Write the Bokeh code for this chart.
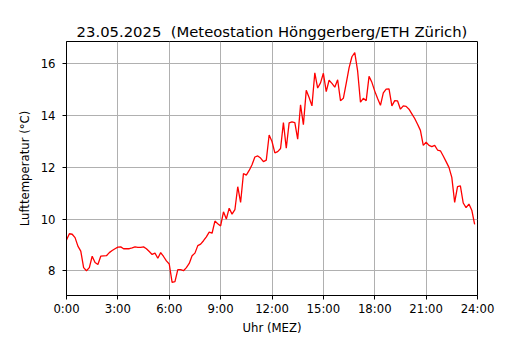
from bokeh.plotting import figure
from bokeh.models import FixedTicker, Range1d, Title
from bokeh.embed import file_html
from bokeh.resources import INLINE

# 10-minute samples, 0:00 .. 23:50
minutes = list(range(0, 24 * 60, 10))
temps = [
    9.19, 9.43, 9.41, 9.28, 8.95, 8.76, 8.12, 8.00, 8.12, 8.56, 8.32, 8.24,
    8.56, 8.57, 8.58, 8.70, 8.78, 8.85, 8.91, 8.92, 8.85, 8.85, 8.85, 8.88,
    8.92, 8.90, 8.90, 8.92, 8.85, 8.74, 8.63, 8.68, 8.48, 8.70, 8.55, 8.38,
    8.26, 7.55, 7.58, 8.04, 8.04, 8.00, 8.12, 8.28, 8.58, 8.68, 8.97, 9.03,
    9.16, 9.31, 9.49, 9.45, 9.92, 9.82, 9.73, 10.28, 10.00, 10.42, 10.19, 10.36,
    11.25, 10.64, 11.76, 11.70, 11.88, 12.10, 12.40, 12.44, 12.36, 12.22, 12.28, 13.25,
    13.00, 12.56, 12.61, 12.73, 13.73, 12.74, 13.72, 13.76, 13.73, 13.09, 14.42, 13.65,
    14.98, 14.70, 14.38, 15.66, 15.07, 15.27, 15.64, 14.93, 15.37, 15.25, 15.10, 15.39,
    14.58, 14.67, 15.25, 15.85, 16.28, 16.44, 15.73, 14.52, 14.67, 14.58, 15.52, 15.29,
    14.95, 14.66, 14.40, 14.88, 15.03, 15.04, 14.38, 14.58, 14.57, 14.25, 14.38, 14.36,
    14.25, 14.07, 13.89, 13.67, 13.43, 12.85, 12.97, 12.85, 12.80, 12.85, 12.67, 12.64,
    12.44, 12.22, 12.00, 11.61, 10.64, 11.25, 11.28, 10.62, 10.44, 10.58, 10.34, 9.79,
]
hours = [m / 60 for m in minutes]

x_ticks = [0, 3, 6, 9, 12, 15, 18, 21, 24]
x_tick_labels = ["0:00", "3:00", "6:00", "9:00", "12:00", "15:00", "18:00", "21:00", "24:00"]
y_ticks = [8, 10, 12, 14, 16]

FONT = "DejaVu Sans"

p = figure(
    width=514, height=334,
    output_backend="svg", toolbar_location=None,
    x_range=Range1d(0, 24), y_range=Range1d(7.04, 16.87),
    min_border_left=66, min_border_right=37,
    min_border_top=41, min_border_bottom=31,
)
p.background_fill_color = "white"
p.border_fill_color = "white"
p.outline_line_color = "black"
p.outline_line_width = 1
p.outline_line_alpha = 1

p.title.text = "23.05.2025 \u00a0(Meteostation Hönggerberg/ETH Zürich)"
p.title.align = "center"
p.title.text_font = FONT
p.title.text_font_size = "14.8px"
p.title.text_font_style = "normal"
p.title.text_color = "black"
p.title.standoff = 3

p.xaxis.ticker = FixedTicker(ticks=x_ticks)
p.xaxis.major_label_overrides = {t: l for t, l in zip(x_ticks, x_tick_labels)}
p.yaxis.ticker = FixedTicker(ticks=y_ticks)
p.xgrid.ticker = FixedTicker(ticks=x_ticks)
p.ygrid.ticker = FixedTicker(ticks=y_ticks)

for ax in (p.xaxis, p.yaxis):
    ax.axis_line_color = "black"
    ax.major_tick_line_color = "black"
    ax.minor_tick_line_color = None
    ax.major_tick_in = 0
    ax.major_tick_out = 4
    ax.major_label_text_font = FONT
    ax.major_label_text_font_size = "11.7px"
    ax.major_label_text_color = "black"
    ax.axis_label_text_font = FONT
    ax.axis_label_text_font_size = "11.7px"
    ax.axis_label_text_font_style = "normal"
    ax.axis_label_text_color = "black"

p.yaxis.axis_label = "Lufttemperatur (°C)"
p.xaxis.major_label_standoff = 2
p.xaxis.major_label_text_line_height = 0.9
p.yaxis.major_label_standoff = 7
p.yaxis.axis_label_standoff = 6

# x-axis title as a compact text panel below the axis
xlabel = Title(
    text="Uhr (MEZ)", align="center", standoff=0,
    text_font=FONT, text_font_size="11.7px", text_font_style="normal",
    text_color="black", text_line_height=0.9,
)
p.add_layout(xlabel, "below")

for g in (p.xgrid, p.ygrid):
    g.grid_line_color = "#b0b0b0"
    g.grid_line_width = 1

p.line(hours, temps, line_color="#ff0000", line_width=1.3)

open("out.html", "w").write(file_html(p, INLINE))
